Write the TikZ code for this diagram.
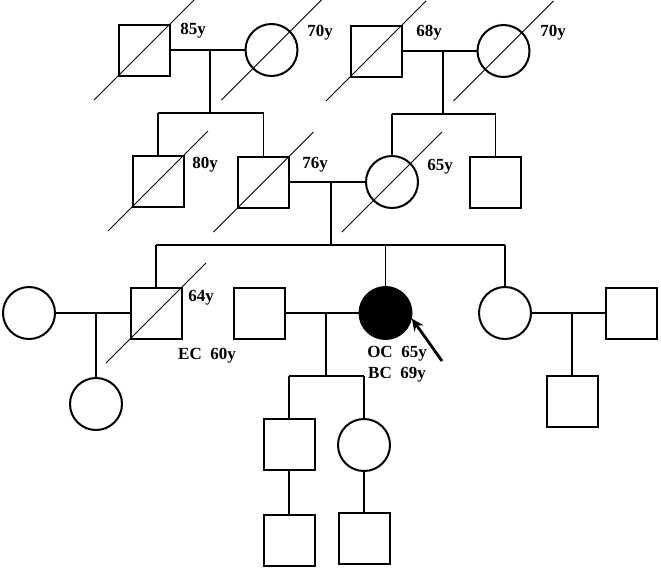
\documentclass[tikz,border=0pt]{standalone}
\usepackage{fontspec}
\setmainfont{Liberation Serif}
\usetikzlibrary{calc,arrows.meta}
\tikzset{
  male/.style={draw, line width=2pt, minimum size=51pt, inner sep=0pt, shape=rectangle},
  female/.style={draw, line width=2pt, minimum size=52pt, inner sep=0pt, shape=circle},
  proband/.style={female, fill=black},
  link/.style={line width=1.3pt},
  dead/.style={line width=1pt},
  age/.style={font=\fontsize{17}{20}\selectfont\bfseries, inner sep=0pt},
  pointer/.style={line width=2.8pt, -{Stealth[length=12pt,width=11pt]}}
}
\newcommand{\deceased}[1]{\draw[dead] ($(#1)+(-50,50)$) -- ($(#1)+(50,-50)$);}
\begin{document}
\begin{tikzpicture}[x=1pt,y=-1pt]
\useasboundingbox (0,0) rectangle (661,571);
% generation 1
\node[male]   (A) at (144,50) {};
\node[female] (B) at (271.5,50) {};
\node[male]   (C) at (376,51) {};
\node[female] (D) at (503.5,51) {};
% generation 2
\node[male]   (E) at (158,181) {};
\node[male]   (F) at (263.5,182) {};
\node[female] (G) at (392,182) {};
\node[male]   (H) at (495.5,182) {};
% generation 3
\node[female]  (J) at (29,313) {};
\node[male]    (K) at (156,313) {};
\node[male]    (M) at (259.5,313) {};
\node[proband] (N) at (385.5,313) {};
\node[female]  (I) at (505,313) {};
\node[male]    (P) at (631.5,313) {};
\node[female]  (L) at (96,404) {};
\node[male]    (Q) at (572,401.5) {};
% generation 4
\node[male]   (R) at (289,444) {};
\node[female] (S) at (364,445) {};
\node[male]   (T) at (289,540) {};
\node[male]   (U) at (364,538.5) {};
% deceased marks
\deceased{A}\deceased{B}\deceased{C}\deceased{D}
\deceased{E}\deceased{F}\deceased{G}\deceased{K}
% coordinates
\coordinate (m1) at (210,50);   \coordinate (s1) at (210,113);
\coordinate (m2) at (443,51);   \coordinate (s2) at (443,114);
\coordinate (m3) at (331,182);  \coordinate (s3) at (331,245);
\coordinate (m4) at (96,313);
\coordinate (m5) at (326,313);  \coordinate (s5) at (326,376);
\coordinate (m6) at (572,313);
% gen1 couples
\draw[link] (A) -- (B);
\draw[link] (m1) -- (s1);
\draw[link] (E.north |- s1) -- (F.north |- s1);
\draw[link] (E.north) -- (E.north |- s1);
\draw[link] (F.north) -- (F.north |- s1);
\draw[link] (C) -- (D);
\draw[link] (m2) -- (s2);
\draw[link] (G.north |- s2) -- (H.north |- s2);
\draw[link] (G.north) -- (G.north |- s2);
\draw[link] (H.north) -- (H.north |- s2);
% gen2 couple
\draw[link] (F) -- (G);
\draw[link] (m3) -- (s3);
\draw[link] (K.north |- s3) -- (I.north |- s3);
\draw[link] (K.north) -- (K.north |- s3);
\draw[link] (N.north) -- (N.north |- s3);
\draw[link] (I.north) -- (I.north |- s3);
% gen3 couples
\draw[link] (J) -- (K);
\draw[link] (m4) -- (L);
\draw[link] (M) -- (N);
\draw[link] (m5) -- (s5);
\draw[link] (R.north |- s5) -- (S.north |- s5);
\draw[link] (R.north) -- (R.north |- s5);
\draw[link] (S.north) -- (S.north |- s5);
\draw[link] (I) -- (P);
\draw[link] (m6) -- (Q);
% gen4
\draw[link] (R) -- (T);
\draw[link] (S) -- (U);
% labels
\node[age] (l1) at (193,31) {85y};
\node[age] (l2) at (320,33) {70y};
\node[age] (l3) at (429,33) {68y};
\node[age] (l4) at (553,33) {70y};
\node[age] (l5) at (205,165) {80y};
\node[age] (l6) at (315,165) {76y};
\node[age] (l7) at (440,167) {65y};
\node[age] (l8) at (201,298) {64y};
\node[age] (l9) at (207,356) {EC\ \ 60y};
\node[age] (l10) at (397,354) {OC\ \ 65y};
\node[age] (l11) at (397,375) {BC\ \ 69y};
% proband arrow
\coordinate (tail) at (442,361);
\draw[pointer] (tail) -- (N.-12);
\end{tikzpicture}
\end{document}
